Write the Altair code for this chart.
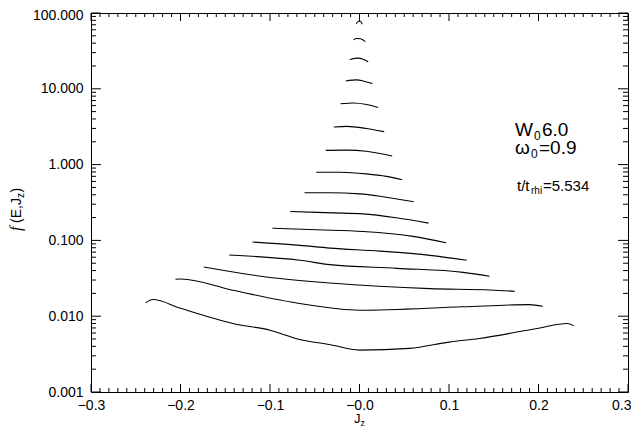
import altair as alt
import pandas as pd

# ---- data (J_z, f(E,J_z)) ----
curve_x = [
    [-0.0037, -0.001, 0.001, 0.003],
    [-0.0067, -0.003, 0.001, 0.0064],
    [-0.0108, -0.0015, 0.004, 0.0097],
    [-0.0153, -0.0032, 0.005, 0.0145],
    [-0.0212, -0.007, 0.008, 0.0209],
    [-0.0287, -0.0143, 0.0076, 0.0276],
    [-0.0377, -0.0143, 0.0076, 0.0365],
    [-0.0484, -0.022, 0.0076, 0.03, 0.0477],
    [-0.0615, -0.033, 0.0, 0.0229, 0.0606],
    [-0.0774, -0.0296, 0.004, 0.041, 0.0771],
    [-0.0972, -0.0481, 0.004, 0.06, 0.0969],
    [-0.1196, -0.0665, -0.033, 0.0229, 0.0788, 0.1198],
    [-0.1456, -0.0665, -0.033, 0.0416, 0.116, 0.1453],
    [-0.174, -0.1039, -0.033, 0.0788, 0.146, 0.1737],
    [-0.2056, -0.1993, -0.1416, -0.067, 0.0, 0.1155, 0.19, 0.2047],
    [-0.2391, -0.2309, -0.2, -0.1416, -0.1, -0.067, -0.0335, 0.0, 0.0559,
     0.1, 0.1341, 0.2, 0.2321, 0.2395],
]
curve_y = [
    [72, 78, 78, 71],
    [44.2, 46.0, 45.8, 41.9],
    [24.3, 25.4, 24.6, 22.8],
    [12.7, 13.1, 12.6, 11.75],
    [6.35, 6.49, 6.2, 5.68],
    [3.13, 3.19, 3.0, 2.72],
    [1.54, 1.55, 1.50, 1.30],
    [0.792, 0.792, 0.755, 0.70, 0.630],
    [0.425, 0.425, 0.411, 0.383, 0.323],
    [0.241, 0.231, 0.224, 0.199, 0.169],
    [0.145, 0.138, 0.131, 0.113, 0.0933],
    [0.0951, 0.0859, 0.0792, 0.0723, 0.0635, 0.0546],
    [0.0641, 0.0546, 0.0479, 0.0428, 0.0379, 0.0336],
    [0.0446, 0.0329, 0.0274, 0.0231, 0.0222, 0.0213],
    [0.0307, 0.0310, 0.0220, 0.0147, 0.0120, 0.0133, 0.0142, 0.0135],
    [0.0150, 0.0166, 0.0127, 0.00801, 0.00654, 0.00494, 0.00424, 0.00357,
     0.00376, 0.00455, 0.00509, 0.00695, 0.00801, 0.00745],
]

x_major = [-0.3, -0.2, -0.1, 0.0, 0.1, 0.2, 0.3]
x_minor = [round(-0.3 + 0.01 * i, 2) for i in range(61) if i % 10 != 0]
y_major = [0.001, 0.01, 0.1, 1.0, 10.0, 100.0]
y_minor = [m * d for d in y_major[:-1] for m in range(2, 10)]

w0_text = "6.0"
omega0_text = "=0.9"
time_text = "=5.534"

rows = []
for i, (xs, ys) in enumerate(zip(curve_x, curve_y)):
    for xv, yv in zip(xs, ys):
        rows.append({"curve": i, "jz": xv, "f": yv})
df = pd.DataFrame(rows)

FONT = "Liberation Sans"
W, H = 537, 379
L, T = 91, 13  # plot origin on the page (for annotation placement)

LAST = "datum.value > 0.29"
TOP = "datum.value > 50"


def x_axis(orient, labels):
    return alt.Axis(
        orient=orient, values=x_major, labels=labels, ticks=False, tickSize=0,
        labelExpr="abs(datum.value) < 1e-9 ? '\u22120.0' : format(datum.value, '.1f')",
        labelFont=FONT, labelFontSize=14, labelColor="black",
        labelAlign={"condition": {"test": LAST, "value": "right"}, "value": "center"},
        labelOffset={"condition": {"test": LAST, "value": 3}, "value": 0},
        labelPadding=6, labelOverlap=False, labelFlush=False,
        domainColor="black", domainWidth=1, grid=False, title=None,
    )


def y_axis(orient, labels):
    return alt.Axis(
        orient=orient, values=y_major, labels=labels, ticks=False, tickSize=0,
        format=".3f",
        labelFont=FONT, labelFontSize=14, labelColor="black",
        labelOffset={"condition": {"test": TOP, "value": 2}, "value": 0},
        labelPadding=8, labelOverlap=False, labelFlush=False,
        domainColor="black", domainWidth=1, grid=False, title=None,
    )


xscale = alt.Scale(domain=[-0.3, 0.3], nice=False, zero=False)
yscale = alt.Scale(type="log", domain=[0.001, 100], nice=False)

lines = alt.Chart(df).mark_line(
    color="black", strokeWidth=1.1, interpolate="monotone"
).encode(
    x=alt.X("jz:Q", scale=xscale, axis=x_axis("bottom", True)),
    y=alt.Y("f:Q", scale=yscale, axis=y_axis("left", True)),
    detail="curve:N",
)

frame = alt.Chart(df).mark_line(strokeOpacity=0).encode(
    x=alt.X("jz:Q", scale=xscale, axis=x_axis("top", False)),
    y=alt.Y("f:Q", scale=yscale, axis=y_axis("right", False)),
    detail="curve:N",
)


def xtick_layer(vals, length, top):
    y0, y1 = (0, length) if top else (H, H - length)
    return alt.Chart(pd.DataFrame({"v": vals})).mark_rule(
        color="black", strokeWidth=1
    ).encode(x=alt.X("v:Q", scale=xscale, axis=None),
             y=alt.value(y0), y2=alt.value(y1))


def ytick_layer(vals, length, right):
    x0, x1 = (W, W - length) if right else (0, length)
    return alt.Chart(pd.DataFrame({"v": vals})).mark_rule(
        color="black", strokeWidth=1
    ).encode(y=alt.Y("v:Q", scale=yscale, axis=None),
             x=alt.value(x0), x2=alt.value(x1))


ticks = [
    xtick_layer(x_major, 8, False), xtick_layer(x_minor, 4, False),
    xtick_layer(x_major, 8, True), xtick_layer(x_minor, 4, True),
    ytick_layer(y_major, 10, False), ytick_layer(y_minor, 5, False),
    ytick_layer(y_major, 10, True), ytick_layer(y_minor, 5, True),
]


def txt(s, px, py, size, angle=0, font=FONT, style="normal"):
    return alt.Chart(pd.DataFrame({"t": [s]})).mark_text(
        align="left", baseline="alphabetic", fontSize=size, font=font,
        fontStyle=style, angle=angle, color="black",
    ).encode(x=alt.value(px - L), y=alt.value(py - T), text="t:N")


texts = [
    # annotations
    txt("W", 515, 136, 19), txt("0", 534, 140, 12), txt(w0_text, 542, 136, 19),
    txt("\u03c9", 515, 154, 19), txt("0", 531, 158, 12), txt(omega0_text, 539, 154, 19),
    txt("t/t", 517, 191, 15), txt("rhi", 531, 194, 10), txt(time_text, 543, 191, 15),
    # x title
    txt("J", 354, 423, 13), txt("z", 360.5, 426, 9),
    # y title (rotated)
    txt("f", 21, 231, 16, angle=270, font="Liberation Serif", style="italic"),
    txt("(E,J", 21, 223, 14, angle=270),
    txt("z", 24, 198, 10, angle=270),
    txt(")", 21, 192.5, 14, angle=270),
]

chart = alt.layer(lines, frame, *ticks, *texts).resolve_axis(
    x="independent", y="independent"
).properties(
    width=W, height=H,
    padding={"left": 83, "top": 5, "right": 3, "bottom": 41},
    autosize=alt.AutoSizeParams(type="none"),
).configure_view(stroke=None)

chart.save("out.html", embed_options={"renderer": "svg", "actions": False})
